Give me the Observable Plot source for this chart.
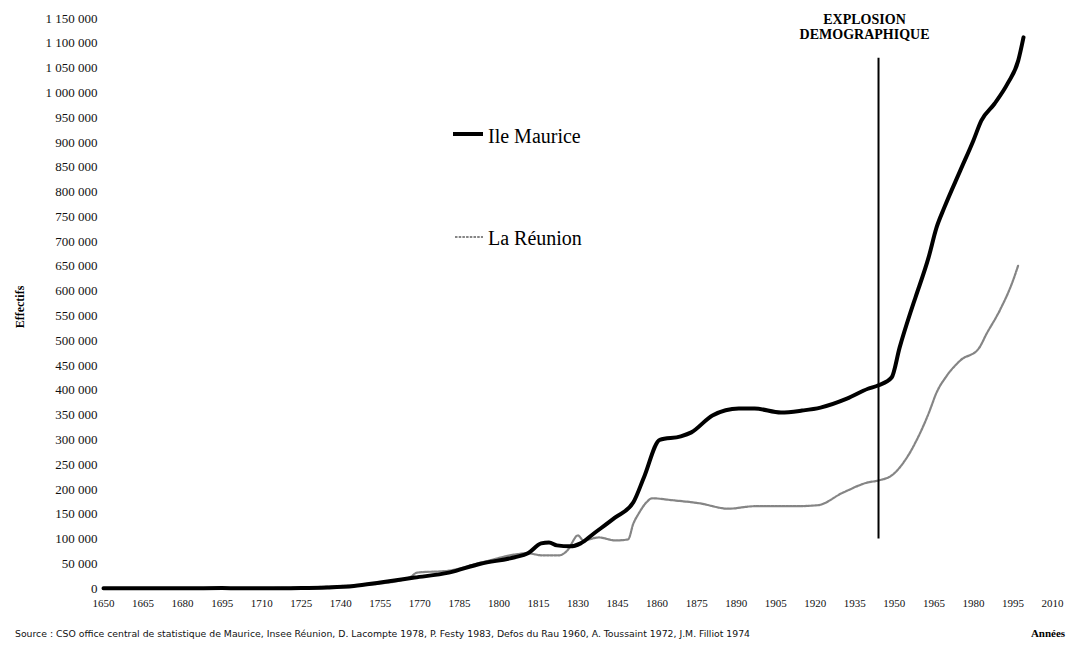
<!DOCTYPE html>
<html>
<head>
<meta charset="utf-8">
<script src="https://cdn.jsdelivr.net/npm/d3@7"></script>
<script src="https://cdn.jsdelivr.net/npm/@observablehq/plot@0.6"></script>
<style>
  html, body { margin: 0; padding: 0; background: #fff; }
  #wrap { position: relative; width: 1068px; height: 649px; overflow: hidden; }
  #overlay { position: absolute; left: 0; top: 0; pointer-events: none; }
</style>
</head>
<body>
<div id="wrap"></div>
<script>
// ---- data ----
const mauriceYears  = [1650,1665,1680,1695,1710,1725,1735,1745,1755,1768,1781,1793,1806,1811,1816,1819,1822,1827,1831,1836,1844,1851,1855,1861,1869,1873,1881,1891,1897,1907,1915,1922,1932,1940,1944,1949,1952,1956,1958,1963,1966,1969,1975,1980,1983,1988,1993,1997,1999];
const mauriceValues = [500,500,600,800,400,800,2000,5000,12000,22000,32000,50000,63000,71000,91000,93000,87000,85000,91000,111000,143000,174000,224000,300000,307000,315000,349000,363000,363000,355000,359000,365000,383000,403000,410000,426000,486000,555000,587000,668000,728000,769000,843000,904000,944000,978000,1019000,1065000,1112000];

const reunionYears  = [1650,1665,1680,1695,1710,1725,1740,1755,1766,1769,1781,1793,1811,1816,1823,1826,1830,1832,1838,1844,1849,1851,1853,1856,1858,1866,1876,1887,1897,1912,1921,1930,1940,1944,1949,1954,1959,1963,1966,1970,1975,1982,1985,1990,1995,1997];
const reunionValues = [0,0,200,300,800,2000,5000,10000,22000,32000,36000,52000,71000,67000,67000,77000,107000,97000,103000,97000,99000,131000,151000,174000,182000,178000,172000,161000,166000,166000,168000,192000,214000,218000,228000,258000,305000,353000,395000,430000,460000,484000,514000,561000,621000,652000];

const seriesNames = ["Ile Maurice", "La Réunion"];
const xTickYears = [1650,1665,1680,1695,1710,1725,1740,1755,1770,1785,1800,1815,1830,1845,1860,1875,1890,1905,1920,1935,1950,1965,1980,1995,2010];
const yTickValues = [0,50000,100000,150000,200000,250000,300000,350000,400000,450000,500000,550000,600000,650000,700000,750000,800000,850000,900000,950000,1000000,1050000,1100000,1150000];
const explosionYear = 1944;
const explosionFrom = 100000;
const explosionTo = 1070000;
const explosionLabel = "EXPLOSION\nDEMOGRAPHIQUE";
const yLabel = "Effectifs";
const xLabel = "Années";
const sourceText = "Source : CSO office central de statistique de Maurice, Insee Réunion, D. Lacompte 1978, P. Festy 1983, Defos du Rau 1960, A. Toussaint 1972, J.M. Filliot 1974";

// ---- tables built from the arrays ----
const maurice = mauriceYears.map((y, i) => ({year: y, value: mauriceValues[i]}));
const reunion = reunionYears.map((y, i) => ({year: y, value: reunionValues[i]}));
const explosion = [{year: explosionYear, from: explosionFrom, to: explosionTo, label: explosionLabel}];

const fr = d3.formatLocale({decimal: ",", thousands: " ", grouping: [3], currency: ["", " €"]});
const fmt = fr.format(",");

const serif = "'Liberation Serif', 'DejaVu Serif', serif";

const chart = Plot.plot({
  width: 1068,
  height: 620,
  marginTop: 18,
  marginBottom: 32,
  marginLeft: 103,
  marginRight: 16,
  style: {fontFamily: serif, background: "#fff", color: "#111", overflow: "visible"},
  x: {domain: [1650, 2010]},
  y: {domain: [0, 1150000]},
  marks: [
    Plot.axisX({ticks: xTickYears, tickFormat: d => String(d), tickSize: 0, tickPadding: 11, fontSize: 11, label: null}),
    Plot.axisY({ticks: yTickValues, tickFormat: d => fmt(d), tickSize: 0, tickPadding: 6, fontSize: 13, label: null}),
    Plot.line(reunion, {x: "year", y: "value", stroke: "#858585", strokeWidth: 2.2, strokeDasharray: "2.5,1.2", curve: "monotone-x"}),
    Plot.line(maurice, {x: "year", y: "value", stroke: "#000", strokeWidth: 4, curve: "monotone-x"}),
    Plot.ruleX(explosion, {x: "year", y1: "from", y2: "to", stroke: "#000", strokeWidth: 2}),
    Plot.text(explosion, {x: "year", text: "label", frameAnchor: "top", lineAnchor: "top", dy: -5, dx: -14, fontSize: 14, fontWeight: "bold", lineHeight: 1.07, fill: "#000"})
  ]
});

const wrap = document.getElementById("wrap");
wrap.appendChild(chart);

// ---- overlay: legend, axis titles, source ----
const ov = d3.select(wrap).append("svg")
  .attr("id", "overlay").attr("width", 1068).attr("height", 649)
  .style("font-family", serif);

const leg = ov.append("g");
leg.append("line").attr("x1", 453).attr("x2", 483).attr("y1", 134).attr("y2", 134)
  .attr("stroke", "#000").attr("stroke-width", 4);
leg.append("text").attr("x", 488).attr("y", 143).attr("font-size", 20).attr("fill", "#000")
  .text(seriesNames[0]);
leg.append("line").attr("x1", 455).attr("x2", 483).attr("y1", 237).attr("y2", 237)
  .attr("stroke", "#858585").attr("stroke-width", 2.2).attr("stroke-dasharray", "2.5,1.2");
leg.append("text").attr("x", 488).attr("y", 245).attr("font-size", 20).attr("fill", "#000")
  .text(seriesNames[1]);

ov.append("text").attr("transform", "translate(24,307) rotate(-90)")
  .attr("text-anchor", "middle").attr("font-size", 12).attr("font-weight", "bold")
  .text(yLabel);

ov.append("text").attr("x", 1048).attr("y", 637).attr("text-anchor", "middle")
  .attr("font-size", 11).attr("font-weight", "bold").text(xLabel);

ov.append("text").attr("x", 15).attr("y", 637).attr("font-size", 9.5)
  .attr("font-family", "'Liberation Sans Narrow', 'DejaVu Sans Condensed', sans-serif")
  .attr("textLength", 735).attr("lengthAdjust", "spacingAndGlyphs")
  .attr("fill", "#111").text(sourceText);
</script>
</body>
</html>
